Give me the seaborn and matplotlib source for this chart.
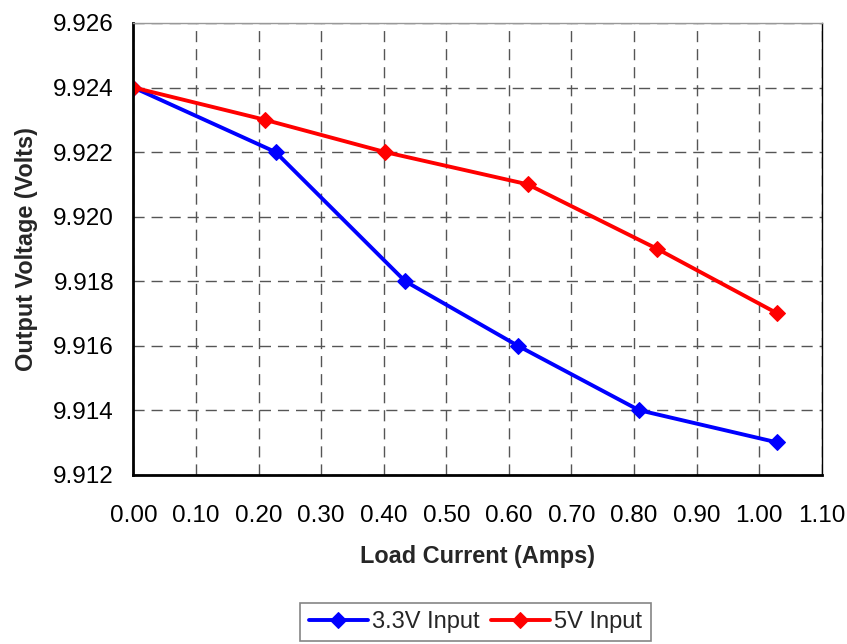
import pandas as pd
import matplotlib
matplotlib.use("Agg")
import matplotlib.pyplot as plt
import seaborn as sns

# Dati
corrente_33 = [0.0, 0.227, 0.434, 0.614, 0.808, 1.029]
tensione_33 = [9.924, 9.922, 9.918, 9.916, 9.914, 9.913]
corrente_5 = [0.0, 0.210, 0.402, 0.630, 0.837, 1.029]
tensione_5 = [9.924, 9.923, 9.922, 9.921, 9.919, 9.917]
etichette = ["3.3V Input", "5V Input"]
colori = ["#0000FF", "#FF0000"]
x_ticks = [i / 10 for i in range(12)]
y_ticks = [9.912, 9.914, 9.916, 9.918, 9.920, 9.922, 9.924, 9.926]

sns.set_style("white")
plt.rcParams['font.family'] = ['Liberation Sans', 'DejaVu Sans']

df = pd.concat([
    pd.DataFrame({'corrente': corrente_33, 'tensione': tensione_33, 'serie': etichette[0]}),
    pd.DataFrame({'corrente': corrente_5, 'tensione': tensione_5, 'serie': etichette[1]}),
])

fig = plt.figure(figsize=(8.47, 6.44), dpi=100)
ax = fig.add_axes([0.1576, 0.2629, 0.8125, 0.7014])

# griglia tratteggiata
ax.set_axisbelow(True)
ax.grid(True, linestyle=(0, (8, 5)), color='#555555', linewidth=1.0)

for nome, colore in zip(etichette, colori):
    sub = df[df['serie'] == nome]
    sns.lineplot(data=sub, x='corrente', y='tensione', ax=ax, color=colore,
                 linewidth=2.8, marker='D', markersize=8.5, markeredgecolor=colore,
                 label=nome, sort=False, estimator=None)

ax.set_xlim(0, 1.10)
ax.set_ylim(9.912, 9.926)
ax.set_xticks(x_ticks)
ax.set_yticks(y_ticks)
ax.set_xticklabels([f"{v:.2f}" for v in x_ticks])
ax.set_yticklabels([f"{v:.3f}" for v in y_ticks])
ax.tick_params(axis='both', labelsize=17.5, length=0, colors='black')
ax.tick_params(axis='x', pad=22)
ax.tick_params(axis='y', pad=14)

ax.set_xlabel('Load Current (Amps)', fontsize=16.9, fontweight='bold', labelpad=13)
ax.set_ylabel('Output Voltage (Volts)', fontsize=16.9, fontweight='bold', labelpad=11)

for lato in ['left', 'bottom']:
    ax.spines[lato].set_color('black')
    ax.spines[lato].set_linewidth(2.0)
ax.spines['right'].set_color('black')
ax.spines['right'].set_linewidth(1.0)
ax.spines['top'].set_color('#999999')
ax.spines['top'].set_linewidth(1.0)

ax.get_legend().remove()
h, l = ax.get_legend_handles_labels()
leg = fig.legend(h, l, loc='upper center', bbox_to_anchor=(0.5614, 0.0641), ncol=2,
                 fontsize=17, frameon=True, fancybox=False, borderaxespad=0,
                 handlelength=2.5, handletextpad=0.2, columnspacing=0.45,
                 markerscale=0.9, borderpad=0.35)
leg.get_frame().set_edgecolor('#666666')
leg.get_frame().set_linewidth(1.2)
for linea in leg.get_lines():
    linea.set_markevery([1])

fig.savefig('out.png', dpi=100)
